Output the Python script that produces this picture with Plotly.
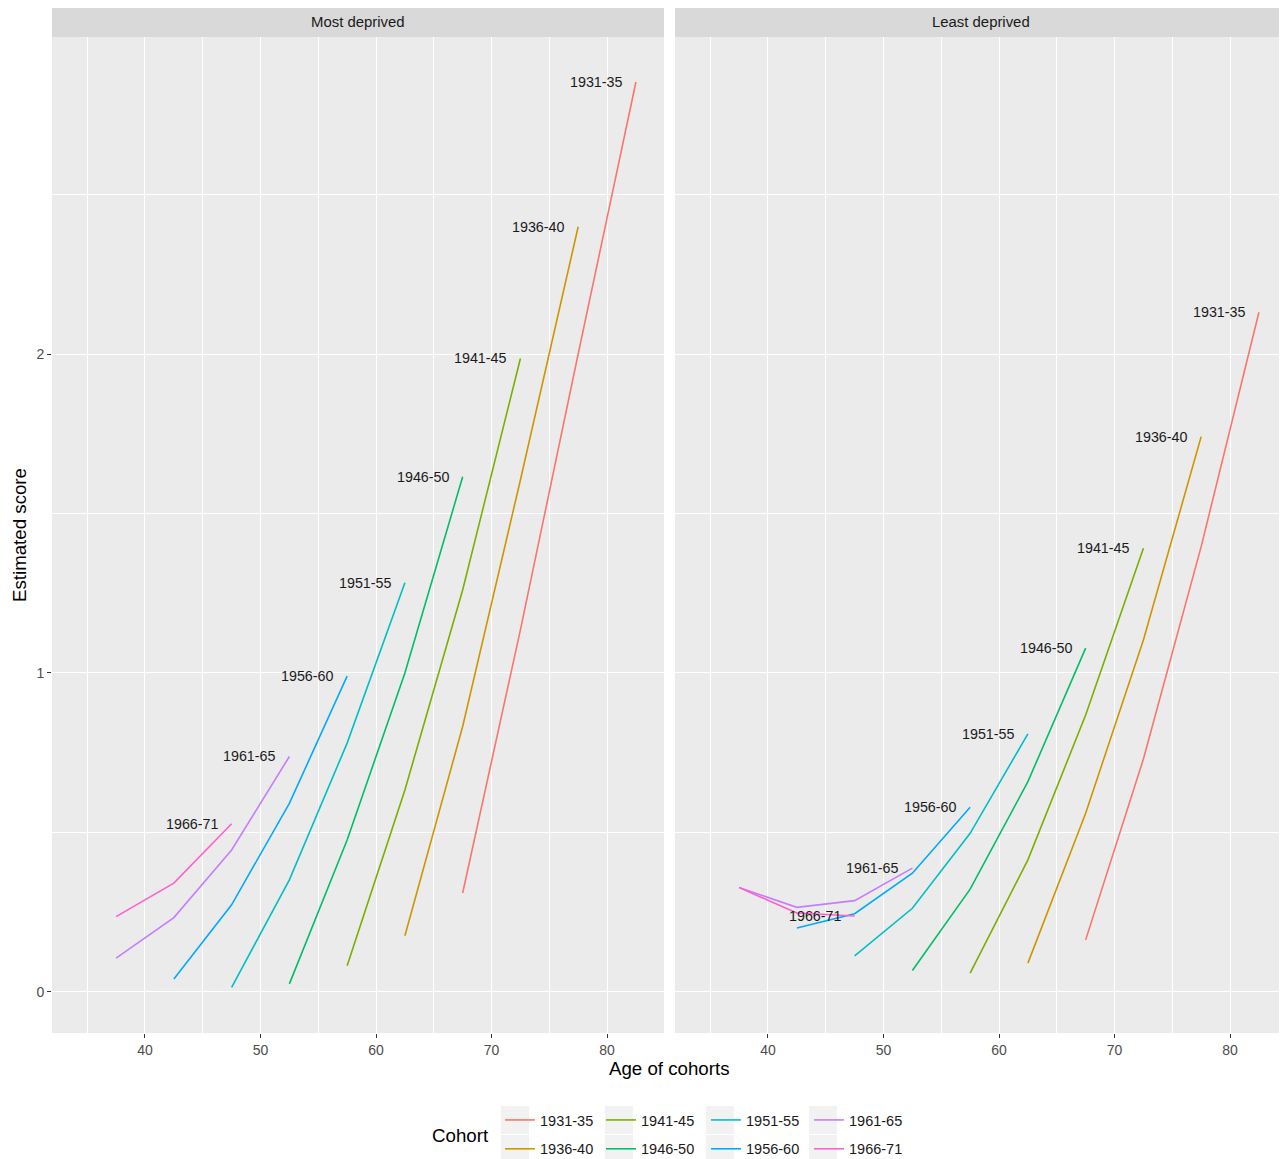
import plotly.graph_objects as go

# ---------------- data ----------------
cohorts = ["1931-35", "1936-40", "1941-45", "1946-50",
           "1951-55", "1956-60", "1961-65", "1966-71"]
colors = ["#F8766D", "#CD9600", "#7CAE00", "#00BE67",
          "#00BFC4", "#00A9FF", "#C77CFF", "#FF61CC"]
cohort_ages = [
    [67.5, 72.5, 77.5, 82.5],
    [62.5, 67.5, 72.5, 77.5],
    [57.5, 62.5, 67.5, 72.5],
    [52.5, 57.5, 62.5, 67.5],
    [47.5, 52.5, 57.5, 62.5],
    [42.5, 47.5, 52.5, 57.5],
    [37.5, 42.5, 47.5, 52.5],
    [37.5, 42.5, 47.5],
]
most_deprived = [
    [0.310, 1.135, 2.000, 2.853],
    [0.176, 0.832, 1.605, 2.399],
    [0.082, 0.633, 1.260, 1.986],
    [0.025, 0.476, 1.000, 1.615],
    [0.014, 0.351, 0.780, 1.283],
    [0.040, 0.273, 0.591, 0.990],
    [0.106, 0.233, 0.445, 0.738],
    [0.236, 0.341, 0.527],
]
least_deprived = [
    [0.163, 0.730, 1.396, 2.131],
    [0.090, 0.560, 1.103, 1.741],
    [0.059, 0.414, 0.868, 1.391],
    [0.067, 0.322, 0.659, 1.078],
    [0.113, 0.262, 0.497, 0.809],
    [0.200, 0.245, 0.372, 0.579],
    [0.327, 0.265, 0.286, 0.388],
    [0.327, 0.247, 0.238],
]
panels = ["Most deprived", "Least deprived"]
x_ticks = [40, 50, 60, 70, 80]
y_ticks = [0, 1, 2]

# ---------------- figure ----------------
OFF = 8  # default page margin of the html body
W, H = 1287 - OFF, 1159 - OFF
FONT = "Liberation Sans, Arial, Helvetica, sans-serif"

def px_x(p):
    return (p - OFF) / W

def px_y(p):
    return 1 - (p - OFF) / H

fig = go.Figure()

legend_of = ["legend", "legend", "legend2", "legend2",
             "legend3", "legend3", "legend4", "legend4"]

for pi, data in enumerate([most_deprived, least_deprived]):
    xa = "x" if pi == 0 else "x2"
    ya = "y" if pi == 0 else "y2"
    for ci, c in enumerate(cohorts):
        fig.add_trace(go.Scatter(
            x=cohort_ages[ci], y=data[ci], mode="lines",
            line=dict(color=colors[ci], width=1.6),
            name=c, legendgroup=c + "_" + str(ci),
            showlegend=(pi == 0), legend=legend_of[ci],
            xaxis=xa, yaxis=ya, hoverinfo="skip"))
        fig.add_annotation(
            x=cohort_ages[ci][-1], y=data[ci][-1], xref=xa, yref=ya,
            text=c, showarrow=False, xanchor="right", yanchor="middle",
            xshift=-11, font=dict(family=FONT, size=14.3, color="#1A1A1A"))

x_range = [31.95, 84.93]
y_range = [-0.129, 2.994]

dom_y = [px_y(1033), px_y(37)]
axis_common = dict(
    range=x_range, tickvals=x_ticks, showgrid=True, gridcolor="white",
    gridwidth=1.2, zeroline=False, ticks="outside", ticklen=4,
    tickcolor="#333333", tickwidth=1,
    tickfont=dict(family=FONT, size=14, color="#4D4D4D"),
    minor=dict(dtick=5, tick0=35, showgrid=True, gridcolor="white",
               gridwidth=0.6),
    showline=False, fixedrange=True)

fig.update_layout(
    width=W, height=H,
    margin=dict(l=0, r=0, t=0, b=0, autoexpand=False),
    paper_bgcolor="white", plot_bgcolor="#EBEBEB",
    font=dict(family=FONT, color="#1A1A1A"),
    xaxis=dict(domain=[px_x(52), px_x(664)], anchor="y", **axis_common),
    xaxis2=dict(domain=[px_x(675), px_x(1287)], anchor="y2", **axis_common),
    yaxis=dict(domain=dom_y, range=y_range, tickvals=y_ticks,
               showgrid=True, gridcolor="white", gridwidth=1.2,
               zeroline=False, ticks="outside", ticklen=4,
               tickcolor="#333333", tickwidth=1,
               tickfont=dict(family=FONT, size=14, color="#4D4D4D"),
               minor=dict(dtick=0.5, tick0=0, showgrid=True,
                          gridcolor="white", gridwidth=0.6),
               anchor="x", fixedrange=True),
    yaxis2=dict(domain=dom_y, range=y_range, tickvals=y_ticks,
                showticklabels=False, showgrid=True, gridcolor="white",
                gridwidth=1.2, zeroline=False, ticks="",
                minor=dict(dtick=0.5, tick0=0, showgrid=True,
                           gridcolor="white", gridwidth=0.6),
                anchor="x2", fixedrange=True),
    showlegend=True,
)

# four legends, each a column of two entries (ggplot-style 2x4 legend)
leg_x = [500, 601, 706, 809]
for k, lx in enumerate(leg_x):
    name = "legend" if k == 0 else "legend%d" % (k + 1)
    fig.update_layout(**{name: dict(
        x=px_x(lx), y=px_y(1104), xanchor="left", yanchor="top",
        orientation="v", bgcolor="rgba(0,0,0,0)", borderwidth=0,
        tracegroupgap=7, itemwidth=30,
        font=dict(family=FONT, size=14.5, color="#1A1A1A"))})

shapes = []
# strips
for (x0, x1) in [(52, 664), (675, 1287)]:
    shapes.append(dict(type="rect", xref="paper", yref="paper",
                       x0=px_x(x0), x1=px_x(x1), y0=px_y(37), y1=px_y(8),
                       fillcolor="#D9D9D9", line=dict(width=0), layer="below"))
# legend key backgrounds
for kx in [501, 605, 706, 809]:
    for ky in [1106, 1135]:
        shapes.append(dict(type="rect", xref="paper", yref="paper",
                           x0=px_x(kx), x1=px_x(kx + 28),
                           y0=px_y(ky + 28), y1=px_y(ky),
                           fillcolor="#F2F2F2", line=dict(width=0),
                           layer="below"))
fig.update_layout(shapes=shapes)

# strip labels
for (x0, x1), t in zip([(52, 664), (675, 1287)], panels):
    fig.add_annotation(x=px_x((x0 + x1) / 2), y=px_y(22.5), xref="paper",
                       yref="paper", text=t, showarrow=False,
                       xanchor="center", yanchor="middle",
                       font=dict(family=FONT, size=14.9, color="#1A1A1A"))

# axis titles
fig.add_annotation(x=px_x(669.5), y=px_y(1068), xref="paper", yref="paper",
                   text="Age of cohorts", showarrow=False, xanchor="center",
                   yanchor="middle", font=dict(family=FONT, size=18.7, color="#000000"))
fig.add_annotation(x=px_x(20), y=px_y(535), xref="paper", yref="paper",
                   text="Estimated score", showarrow=False, textangle=-90,
                   xanchor="center", yanchor="middle",
                   font=dict(family=FONT, size=18.7, color="#000000"))
fig.add_annotation(x=px_x(491), y=px_y(1135), xref="paper", yref="paper",
                   text="Cohort", showarrow=False, xanchor="right",
                   yanchor="middle", font=dict(family=FONT, size=18.7, color="#000000"))

fig.write_html("out.html")
